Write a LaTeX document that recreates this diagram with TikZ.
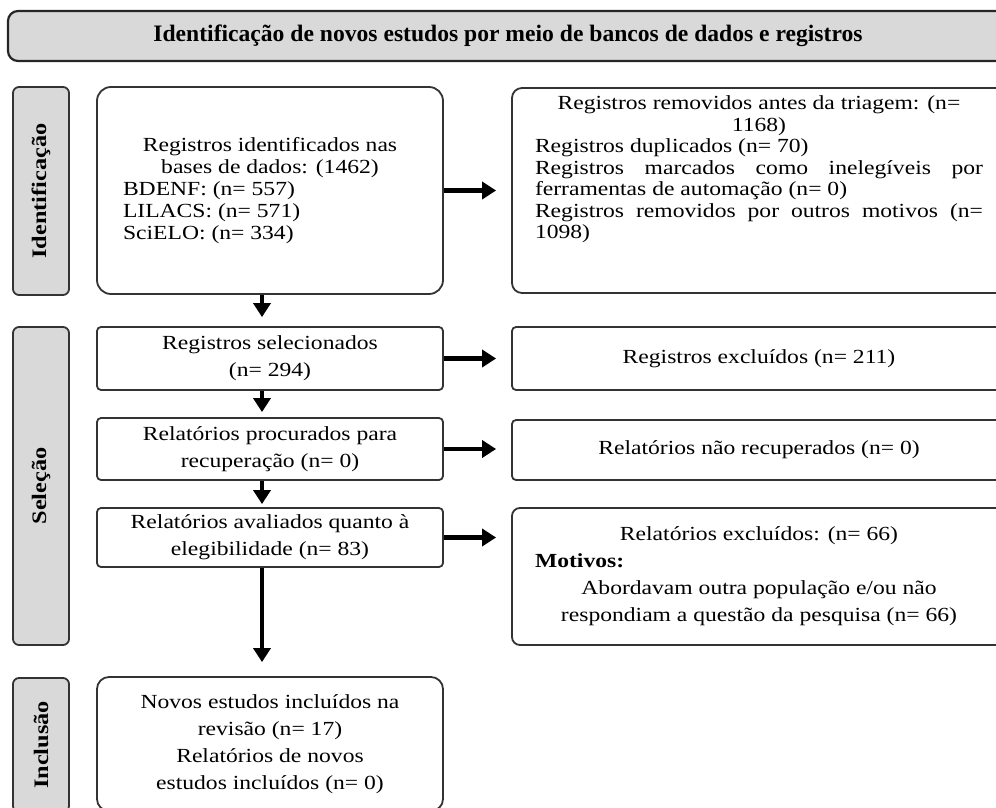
\documentclass[tikz,border=0pt]{standalone}
\usepackage{fontspec}
\setmainfont{Liberation Serif}[FakeStretch=1.18]
\newfontfamily\bannerfont{Liberation Serif}
\usetikzlibrary{arrows.meta,calc}

\begin{document}
\begin{tikzpicture}[x=0.5pt,y=-0.5pt,
  box/.style={draw=black!80,line width=0.9pt,fill=white,align=center,
    minimum width=173pt,font=\fontsize{10}{13.5}\selectfont},
  sidebox/.style={box,minimum width=247pt},
  phase/.style={draw=black!80,line width=0.9pt,fill=gray!30,rounded corners=3pt,
    rotate=90,minimum height=28pt,font=\fontsize{10.3}{12}\selectfont\bfseries},
  flow/.style={line width=2.2pt,-{Triangle[length=7pt,width=8.5pt]},shorten >=2.5pt}]
\useasboundingbox (0,0) rectangle (996,808);
\clip (0,0) rectangle (996,808);

\node[draw=black!85,line width=1.1pt,fill=gray!30,rounded corners=5pt,
  minimum width=500pt,minimum height=25pt,
  font=\bannerfont\bfseries\fontsize{11.8}{13}\selectfont] (banner) at (508,36)
  {Identificação de novos estudos por meio de bancos de dados e registros};

\node[phase,minimum width=104pt] (pIdent) at (41,191) {Identificação};
\node[phase,minimum width=159pt] (pSel) at (41,486) {Seleção};
\node[phase,minimum width=67pt] (pIncl) at (41,745) {Inclusão};

\node[box,rounded corners=7pt,minimum height=103.5pt,
  font=\fontsize{10}{11}\selectfont] (ident) at (270,190.5)
  {Registros identificados nas\\bases de dados: (1462)\\
   \makebox[147pt][l]{BDENF: (n= 557)}\\
   \makebox[147pt][l]{LILACS: (n= 571)}\\
   \makebox[147pt][l]{SciELO: (n= 334)}};
\node[box,rounded corners=2pt,minimum height=31.5pt] (sel) at (270,358.5)
  {Registros selecionados\\(n= 294)};
\node[box,rounded corners=2pt,minimum height=31pt] (proc) at (270,449)
  {Relatórios procurados para\\recuperação (n= 0)};
\node[box,rounded corners=2pt,minimum height=29.5pt] (aval) at (270,537.5)
  {Relatórios avaliados quanto à\\elegibilidade (n= 83)};
\node[box,rounded corners=6pt,minimum height=67pt] (incl) at (270,744)
  {Novos estudos incluídos na\\revisão (n= 17)\\Relatórios de novos\\estudos incluídos (n= 0)};

\node[sidebox,rounded corners=5pt,minimum height=102.5pt,text depth=23pt,
  font=\fontsize{10}{10.75}\selectfont] (removed) at (759,190.5)
  {Registros removidos antes da triagem: (n=\\1168)\\
   \makebox[224pt][l]{Registros duplicados (n= 70)}\\
   \makebox[224pt][s]{Registros marcados como inelegíveis por}\\
   \makebox[224pt][l]{ferramentas de automação (n= 0)}\\
   \makebox[224pt][s]{Registros removidos por outros motivos (n=}\\
   \makebox[224pt][l]{1098)}};
\node[sidebox,rounded corners=2pt,minimum height=31.5pt] (excl) at (759,358.5)
  {Registros excluídos (n= 211)};
\node[sidebox,rounded corners=2pt,minimum height=30pt] (notrec) at (759,450)
  {Relatórios não recuperados (n= 0)};
\node[sidebox,rounded corners=4pt,minimum height=68.5pt] (exclrep) at (759,576.5)
  {Relatórios excluídos: (n= 66)\\
   \makebox[224pt][l]{\bfseries Motivos:}\\
   Abordavam outra população e/ou não\\
   respondiam a questão da pesquisa (n= 66)};

\draw[flow,shorten >=4.5pt] ([xshift=-4pt]ident.south) -- ([xshift=-4pt]sel.north);
\draw[flow] ([xshift=-4pt]sel.south) -- ([xshift=-4pt]proc.north);
\draw[flow,shorten >=1.5pt] ([xshift=-4pt]proc.south) -- ([xshift=-4pt]aval.north);
\draw[flow,shorten >=7pt] ([xshift=-4pt]aval.south) -- ([xshift=-4pt]incl.north);

\draw[flow,shorten >=7.5pt] (ident.east) -- (ident.east -| removed.west);
\draw[flow,shorten >=7.5pt] (sel.east) -- (sel.east -| excl.west);
\draw[flow,shorten >=7.5pt] (proc.east) -- (proc.east -| notrec.west);
\draw[flow,shorten >=7.5pt] (aval.east) -- (aval.east -| exclrep.west);
\end{tikzpicture}
\end{document}
